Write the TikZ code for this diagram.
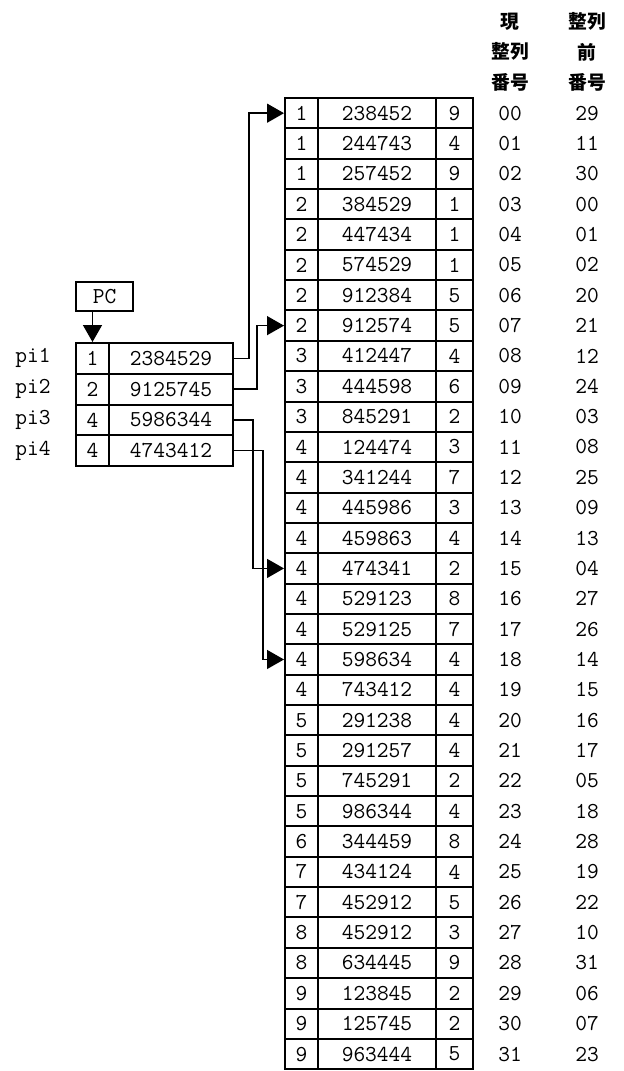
\documentclass[tikz,border=0pt]{standalone}
\usepackage{fontspec}
\newfontfamily\jpfont{Noto Sans CJK JP}
\usetikzlibrary{arrows.meta, positioning}
\tikzset{
  cell/.style={rectangle, draw, line width=1pt, inner sep=0pt,
               minimum height=15.175pt, font=\ttfamily\fontsize{11.4}{12}\selectfont},
  pcell/.style={cell, minimum height=15.375pt},
  num/.style={inner sep=0pt, font=\ttfamily\fontsize{11.4}{12}\selectfont},
  head/.style={align=center, inner sep=0pt,
               font=\jpfont\bfseries\fontsize{9.4}{15.2}\selectfont},
  arr/.style={-{Triangle[length=8.5pt, width=9.5pt]}, line width=0.7pt},
}
\begin{document}
\begin{tikzpicture}[x=0.5pt, y=-0.5pt]
  \useasboundingbox (0,0) rectangle (624,1071);

  % column headings
  \node[head] (hcur) at (510,52) {現\\整列\\番号};
  \node[head] (hold) at (587,52) {整列\\前\\番号};

  % sorted table
  \foreach \ka/\kb/\kc/\nn/\np [count=\i from 0] in {
      1/238452/9/00/29, 1/244743/4/01/11, 1/257452/9/02/30, 2/384529/1/03/00,
      2/447434/1/04/01, 2/574529/1/05/02, 2/912384/5/06/20, 2/912574/5/07/21,
      3/412447/4/08/12, 3/444598/6/09/24, 3/845291/2/10/03, 4/124474/3/11/08,
      4/341244/7/12/25, 4/445986/3/13/09, 4/459863/4/14/13, 4/474341/2/15/04,
      4/529123/8/16/27, 4/529125/7/17/26, 4/598634/4/18/14, 4/743412/4/19/15,
      5/291238/4/20/16, 5/291257/4/21/17, 5/745291/2/22/05, 5/986344/4/23/18,
      6/344459/8/24/28, 7/434124/4/25/19, 7/452912/5/26/22, 8/452912/3/27/10,
      8/634445/9/28/31, 9/123845/2/29/06, 9/125745/2/30/07, 9/963444/5/31/23} {
    \node[cell, minimum width=16.5pt] (r\i a) at (301.5, {113.175+30.35*\i}) {\ka};
    \node[cell, minimum width=59pt]   (r\i k) at (377,   {113.175+30.35*\i}) {\kb};
    \node[cell, minimum width=18.5pt] (r\i b) at (454.5, {113.175+30.35*\i}) {\kc};
    \node[num] (cur\i) at (510, {113.175+30.35*\i}) {\nn};
    \node[num] (old\i) at (587, {113.175+30.35*\i}) {\np};
  }

  % pointer table
  \foreach \ka/\kb [count=\j] in {1/2384529, 2/9125745, 4/5986344, 4/4743412} {
    \node[pcell, minimum width=16.5pt] (s\j a) at (92.5, {327.625+30.75*\j}) {\ka};
    \node[pcell, minimum width=62pt]   (s\j k) at (171,  {327.625+30.75*\j}) {\kb};
    \node[num, left=12pt of s\j a] (pi\j) {pi\j};
  }

  \node[cell, minimum width=28.5pt, minimum height=14.5pt] (pc) at (104.5,296.5) {PC};

  \draw[arr] (pc.south -| s1a.north) -- (s1a.north);
  \draw[arr] (s1k.east) -- ++(15,0) |- (r0a.west);
  \draw[arr] (s2k.east) -- ++(23,0) |- (r7a.west);
  \draw[arr] (s3k.east) -- ++(19,0) |- (r15a.west);
  \draw[arr] (s4k.east) -- ++(29,0) |- (r18a.west);
\end{tikzpicture}
\end{document}
